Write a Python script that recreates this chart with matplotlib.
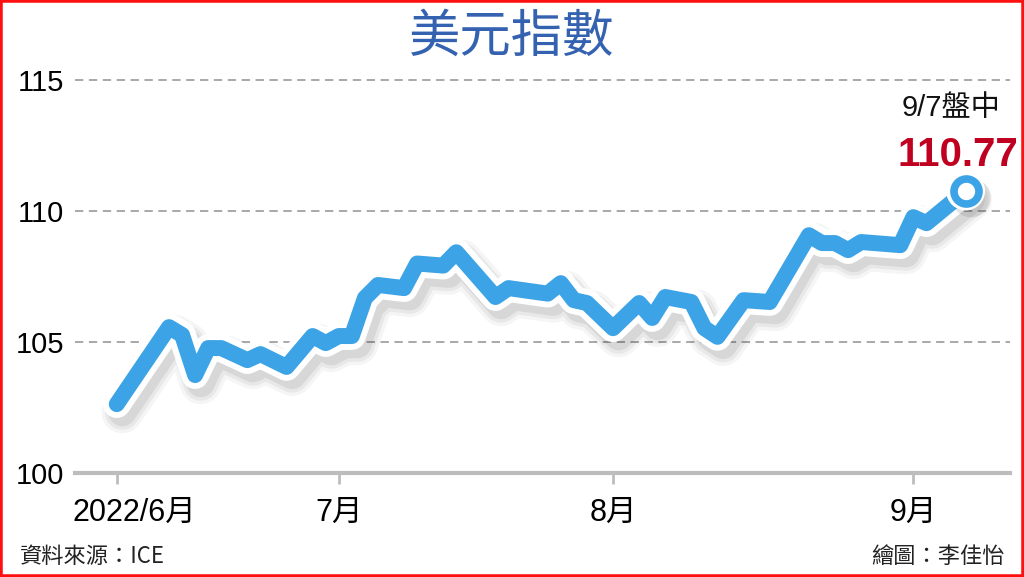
import numpy as np
import matplotlib
matplotlib.use("Agg")
import matplotlib.pyplot as plt
import matplotlib.patheffects as pe
import matplotlib.transforms as mtransforms
from matplotlib.patches import Rectangle

# ---- data ----
dates = ["2022-06-08", "2022-06-14", "2022-06-15", "2022-06-16", "2022-06-17",
         "2022-06-20", "2022-06-22", "2022-06-23", "2022-06-27", "2022-06-29",
         "2022-06-30", "2022-07-01", "2022-07-04", "2022-07-05", "2022-07-06",
         "2022-07-08", "2022-07-11", "2022-07-13", "2022-07-14", "2022-07-19",
         "2022-07-20", "2022-07-25", "2022-07-26", "2022-07-27", "2022-07-28",
         "2022-08-01", "2022-08-03", "2022-08-04", "2022-08-05", "2022-08-09",
         "2022-08-10", "2022-08-11", "2022-08-15", "2022-08-17", "2022-08-22",
         "2022-08-23", "2022-08-24", "2022-08-25", "2022-08-26", "2022-08-31",
         "2022-09-01", "2022-09-02", "2022-09-07"]
values = [102.63, 105.57, 105.27, 103.74, 104.77,
          104.77, 104.31, 104.54, 104.05, 105.23,
          104.96, 105.23, 105.23, 106.68, 107.18,
          107.06, 108.00, 107.92, 108.43, 106.72,
          107.06, 106.85, 107.25, 106.60, 106.49,
          105.53, 106.49, 105.92, 106.72, 106.53,
          105.53, 105.20, 106.60, 106.53, 109.08,
          108.78, 108.78, 108.51, 108.82, 108.70,
          109.77, 109.54, 110.77]
tick_dates = ["2022-06-08", "2022-07-01", "2022-08-01", "2022-09-01"]
tick_labels = ["2022/6月", "7月", "8月", "9月"]
y_ticks = [100, 105, 110, 115]
title = "美元指數"
last_label = "9/7盤中"
last_value_text = "110.77"
source_text = "資料來源：ICE"
credit_text = "繪圖：李佳怡"

# trading-day positions
start = dates[0]
x = np.busday_count(start, np.array(dates, dtype="datetime64[D]"))
xt = np.busday_count(start, np.array(tick_dates, dtype="datetime64[D]"))

num_font = "Liberation Sans"
cjk = "Noto Sans CJK TC"

plt.rcParams["lines.scale_dashes"] = False

fig = plt.figure(figsize=(10.24, 5.77), dpi=100)
fig.patch.set_facecolor("white")
ax = fig.add_axes([75 / 1024, 104 / 577, 935 / 1024, (473 - 54) / 577])
ax.set_xlim(-3.2, 68.4)
ax.set_ylim(100, 116)

blue = "#3BA3E6"
# grid lines
for yv in y_ticks[1:]:
    ax.axhline(yv, color="#a8a8a8", lw=1.4, ls=(0, (6, 4)), zorder=1)

# shadow layers + white outline + blue line
effects = [
    pe.SimpleLineShadow(offset=(4, -6), shadow_color="k", alpha=0.04, linewidth=30),
    pe.SimpleLineShadow(offset=(4, -6), shadow_color="k", alpha=0.05, linewidth=25),
    pe.SimpleLineShadow(offset=(4, -6), shadow_color="k", alpha=0.07, linewidth=20),
    pe.Stroke(linewidth=20, foreground="white"),
    pe.Normal(),
]
ax.plot(x, values, color=blue, lw=11.5, solid_joinstyle="round",
        solid_capstyle="round", zorder=3, path_effects=effects)

# end point marker
ax.plot(x[-1], values[-1], marker="o", ms=28, mfc="white", mec="white", mew=0,
        zorder=4, path_effects=[pe.SimplePatchShadow(offset=(4, -5), alpha=0.15), pe.Normal()])
ax.plot(x[-1], values[-1], marker="o", ms=18, mfc="white", mec=blue, mew=5.5, zorder=5)

# axes styling
for s in ["top", "right", "left"]:
    ax.spines[s].set_visible(False)
ax.spines["bottom"].set_color("#bdbdbd")
ax.spines["bottom"].set_linewidth(3)
ax.spines["bottom"].set_zorder(2)
ax.set_yticks(y_ticks)
ax.set_yticklabels([str(v) for v in y_ticks], family=[num_font, "DejaVu Sans"], fontsize=21)
ax.tick_params(axis="y", length=0, pad=8)
ax.set_xticks(xt)
ax.set_xticklabels(tick_labels, family=[num_font, cjk], fontsize=22)
ax.tick_params(axis="x", length=8, width=2, color="#bdbdbd", pad=10)
# first label sits a little right of its tick, as in the reference
first = ax.get_xticklabels()[0]
first.set_transform(first.get_transform() +
                    mtransforms.ScaledTranslation(18 / 100, 0, fig.dpi_scale_trans))

# texts
fig.text(0.5, 0.936, title, ha="center", va="center", fontsize=37,
         color="#3462B0", family=[cjk], weight="medium")
fig.text(0.977, 0.813, last_label, ha="right", va="center", fontsize=21,
         color="#111111", family=["Liberation Sans", cjk])
fig.text(0.994, 0.731, last_value_text, ha="right", va="center", fontsize=29,
         color="#C00020", family=["Liberation Sans"], weight="bold")
fig.text(0.0195, 0.036, source_text, ha="left", va="center", fontsize=16,
         color="#222222", family=[cjk])
fig.text(0.981, 0.036, credit_text, ha="right", va="center", fontsize=16,
         color="#222222", family=[cjk])

fig.patches.append(Rectangle((0, 0), 1, 1, transform=fig.transFigure, fill=False,
                             edgecolor="#ff1010", lw=4, zorder=10))

fig.savefig("out.png", dpi=100, facecolor="white")
